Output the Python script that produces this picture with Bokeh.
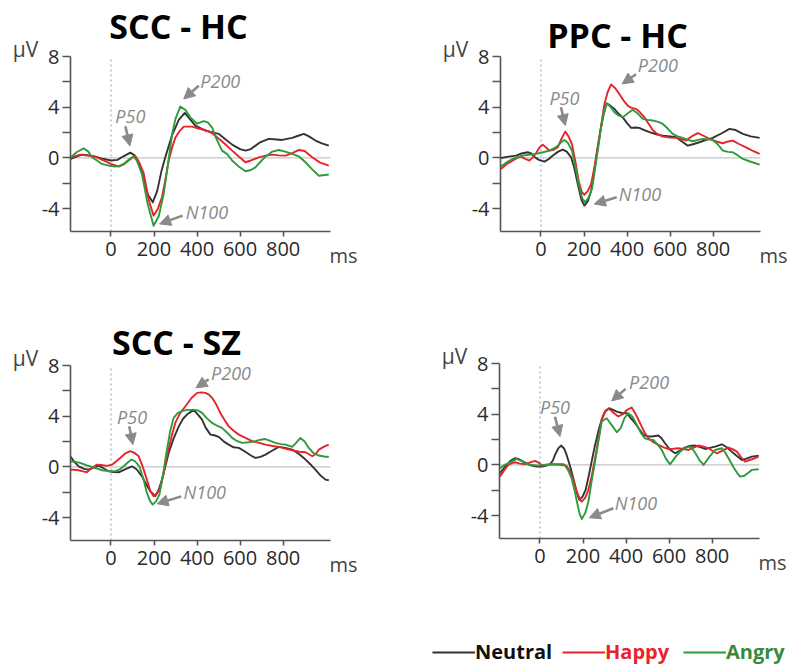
from bokeh.plotting import figure
from bokeh.layouts import column, row
from bokeh.models import Label, Arrow, NormalHead, FixedTicker, Legend, LegendItem
from bokeh.embed import file_html
from bokeh.resources import INLINE

FONT = "Open Sans"

# ---------------- data (time in ms, amplitude in microvolts) ----------------
series_names = ["Neutral", "Happy", "Angry"]
series_colors = ["#333333", "#e8232b", "#2f9a3c"]
legend_text_colors = ["#111111", "#e8232b", "#3a8a3a"]

x_ticks = [0, 200, 400, 600, 800]
y_ticks = [-4, 0, 4, 8]
y_tick_labels = ["-4", "0", "4", "8"]
y_minor_ticks = [-2, 2, 6]

# Panel 1: SCC - HC
scc_hc_neutral = [(-190,-0.1),(-160,0.1),(-135,0.26),(-100,0.2),(-73,0.1),(-40,-0.05),(0,-0.2),(30,-0.15),(60,0.15),(90,0.42),(110,0.2),(125,-0.3),(150,-1.5),(172,-2.9),(194,-3.5),(215,-2.6),(235,-1.0),(253,0.1),(284,1.8),(315,3.0),(343,3.55),(365,3.1),(392,2.55),(439,2.15),(500,1.9),(530,1.5),(563,1.05),(600,0.7),(625,0.58),(650,0.7),(690,1.2),(733,1.5),(770,1.45),(795,1.42),(842,1.58),(870,1.75),(896,1.9),(920,1.7),(950,1.37),(980,1.15),(1012,0.97)]
scc_hc_happy = [(-190,0),(-165,0.15),(-143,0.26),(-110,0.18),(-73,0.1),(-40,-0.15),(0,-0.47),(36,-0.68),(60,-0.5),(82,-0.2),(105,0.1),(115,0.12),(130,-0.3),(152,-1.2),(175,-3.3),(198,-4.55),(218,-4.0),(237,-3.1),(252,-1.8),(268,-0.2),(284,0.8),(299,1.6),(318,2.1),(338,2.47),(377,2.47),(410,2.3),(439,2.2),(470,1.95),(493,1.63),(530,1.1),(563,0.58),(595,0.1),(625,-0.34),(650,-0.2),(687,0.05),(720,0.18),(749,0.26),(780,0.2),(811,0.18),(845,0.4),(873,0.63),(900,0.55),(935,0.05),(970,-0.35),(1012,-0.6)]
scc_hc_angry = [(-190,0),(-160,0.45),(-127,0.76),(-105,0.5),(-88,0.05),(-65,-0.2),(-42,-0.47),(-10,-0.6),(20,-0.68),(40,-0.62),(59,-0.47),(85,-0.1),(105,0.1),(120,-0.2),(144,-1.26),(170,-3.6),(198,-5.35),(222,-4.6),(245,-2.84),(265,-0.5),(284,1.9),(300,3.1),(322,4.05),(345,3.8),(369,3.2),(400,2.7),(431,2.9),(450,2.8),(470,2.4),(490,1.5),(516,0.58),(540,0.3),(563,-0.2),(595,-0.7),(625,-1.05),(650,-0.95),(671,-0.74),(695,-0.3),(718,0.1),(750,0.5),(780,0.63),(810,0.5),(842,0.32),(875,0.1),(904,-0.34),(935,-0.9),(966,-1.4),(1012,-1.3)]

# Panel 2: PPC - HC
ppc_hc_neutral = [(-186,0),(-150,0.1),(-116,0.18),(-90,0.35),(-62,0.45),(-45,0.35),(-31,0.1),(-10,-0.15),(16,-0.29),(35,-0.1),(54,0.18),(80,0.5),(101,0.66),(120,0.5),(140,0.05),(155,-0.8),(171,-2.05),(188,-3.3),(202,-3.76),(218,-3.4),(233,-2.6),(245,-1.3),(256,0.05),(268,1.3),(279,2.42),(292,3.5),(305,4.3),(320,4.15),(341,3.87),(360,3.5),(380,3.2),(400,2.75),(419,2.37),(440,2.4),(457,2.37),(480,2.2),(504,2.03),(540,1.85),(566,1.76),(600,1.7),(628,1.63),(655,1.3),(682,0.97),(710,1.1),(736,1.24),(765,1.4),(798,1.58),(840,1.95),(876,2.29),(905,2.2),(938,1.9),(975,1.7),(1016,1.58)]
ppc_hc_happy = [(-186,-0.87),(-160,-0.5),(-132,-0.21),(-110,0.0),(-93,0.1),(-75,-0.05),(-54,-0.21),(-38,0.05),(-23,0.37),(-8,0.8),(8,1.05),(25,0.8),(39,0.58),(60,0.65),(78,0.84),(95,1.5),(113,2.08),(128,1.7),(144,1.1),(160,-0.3),(175,-1.8),(190,-2.7),(202,-2.9),(218,-2.6),(233,-2.05),(250,-0.6),(264,0.84),(280,2.6),(295,4.26),(310,5.2),(326,5.8),(345,5.5),(364,5.05),(385,4.5),(403,4.13),(420,3.95),(442,3.87),(460,3.6),(481,3.2),(500,2.7),(519,2.2),(540,1.9),(566,1.68),(600,1.6),(628,1.58),(650,1.5),(674,1.37),(700,1.7),(729,1.95),(755,1.75),(783,1.5),(815,1.3),(845,1.16),(870,1.3),(891,1.37),(920,1.1),(953,0.84),(985,0.55),(1016,0.32)]
ppc_hc_angry = [(-186,-0.68),(-160,-0.35),(-132,-0.08),(-110,0.05),(-85,0.18),(-55,0.25),(-23,0.32),(10,0.45),(39,0.58),(60,0.75),(78,0.97),(95,1.25),(109,1.42),(125,1.2),(144,0.58),(160,-0.7),(175,-2.05),(192,-3.2),(206,-3.5),(222,-3.1),(237,-2.45),(250,-1.0),(264,0.58),(275,1.9),(287,3.2),(305,4.3),(320,4.1),(341,3.6),(360,3.35),(380,3.2),(405,3.55),(426,3.8),(450,3.5),(473,3.08),(495,3.0),(519,2.95),(545,2.85),(566,2.68),(590,2.3),(612,1.9),(635,1.7),(659,1.58),(683,1.42),(705,1.32),(730,1.42),(752,1.5),(775,1.48),(798,1.42),(820,1.1),(845,0.58),(870,0.48),(891,0.45),(915,0.2),(938,-0.08),(975,-0.3),(1016,-0.53)]

# Panel 3: SCC - SZ
scc_sz_neutral = [(-189,0.84),(-170,0.4),(-150,0.05),(-125,-0.15),(-104,-0.21),(-80,-0.05),(-57,0.1),(-35,-0.1),(-11,-0.34),(12,-0.4),(36,-0.42),(65,-0.2),(98,0.05),(120,-0.2),(144,-0.74),(165,-1.4),(183,-1.92),(206,-2.3),(222,-1.8),(237,-1.0),(252,0.0),(268,1.1),(290,2.2),(315,3.2),(335,3.8),(353,4.13),(384,4.5),(405,4.1),(423,3.73),(440,3.1),(462,2.55),(480,2.5),(501,2.37),(525,2.0),(547,1.76),(570,1.55),(594,1.5),(615,1.3),(633,1.1),(650,0.9),(671,0.71),(695,0.8),(718,0.97),(750,1.3),(780,1.58),(810,1.5),(842,1.37),(875,1.0),(904,0.58),(930,0.15),(950,-0.21),(975,-0.7),(997,-1.0),(1012,-1.05)]
scc_sz_happy = [(-189,-0.21),(-170,-0.22),(-150,-0.26),(-130,-0.35),(-112,-0.42),(-90,-0.1),(-65,0.18),(-45,0.15),(-26,0.1),(-10,0.12),(5,0.18),(25,0.45),(43,0.71),(65,1.05),(90,1.24),(110,1.1),(129,0.84),(148,0.0),(167,-1.0),(183,-1.9),(198,-2.3),(213,-2.1),(229,-1.66),(245,-0.5),(260,0.84),(280,2.3),(299,3.47),(320,4.2),(346,4.79),(372,5.4),(400,5.84),(420,5.88),(439,5.84),(455,5.7),(470,5.45),(490,4.9),(508,4.26),(528,3.7),(547,3.2),(570,2.85),(594,2.55),(625,2.3),(656,2.03),(690,1.9),(718,1.76),(750,1.65),(780,1.58),(810,1.45),(842,1.32),(875,1.2),(904,1.16),(920,1.0),(935,0.84),(950,1.0),(966,1.37),(990,1.6),(1012,1.76)]
scc_sz_angry = [(-189,0.45),(-165,0.4),(-143,0.32),(-115,0.15),(-88,0.0),(-65,-0.12),(-42,-0.26),(-10,-0.32),(20,-0.34),(40,-0.2),(59,0.05),(78,0.35),(95,0.58),(112,0.45),(132,0.05),(150,-0.9),(167,-2.05),(182,-2.7),(194,-2.97),(210,-2.7),(225,-2.18),(242,-0.6),(260,1.37),(275,2.8),(291,3.87),(310,4.25),(330,4.4),(355,4.5),(384,4.5),(405,4.45),(423,4.26),(445,3.85),(470,3.47),(493,3.25),(516,3.08),(540,2.7),(563,2.29),(585,2.05),(609,1.9),(640,1.95),(671,2.03),(695,2.15),(718,2.2),(740,2.05),(764,1.9),(790,1.8),(811,1.76),(842,1.58),(860,1.9),(880,2.29),(900,2.0),(919,1.5),(940,1.1),(966,0.9),(990,0.82),(1012,0.79)]

# Panel 4: (untitled)
p4_neutral = [(-186,-0.66),(-170,-0.3),(-155,0),(-135,0.35),(-116,0.53),(-97,0.45),(-78,0.26),(-58,0.08),(-39,-0.05),(-15,-0.12),(8,-0.13),(30,-0.05),(47,0.05),(60,0.35),(70,0.79),(85,1.3),(98,1.53),(112,1.3),(124,0.79),(140,-0.1),(155,-1.05),(170,-2.1),(183,-2.76),(198,-2.5),(212,-1.97),(226,-0.9),(240,0.26),(255,1.5),(271,2.63),(287,3.6),(302,4.2),(321,4.47),(340,4.35),(357,4.2),(380,4.1),(403,4.08),(422,3.7),(442,3.3),(462,2.8),(481,2.37),(500,2.25),(519,2.24),(535,2.28),(550,2.32),(565,2.1),(581,1.71),(605,1.2),(628,0.92),(647,1.1),(667,1.32),(695,1.5),(721,1.53),(745,1.4),(767,1.26),(790,1.35),(814,1.45),(845,1.63),(868,1.4),(891,1.05),(915,0.7),(938,0.39),(960,0.5),(984,0.66),(1016,0.74)]
p4_happy = [(-186,-0.92),(-165,-0.4),(-147,0),(-130,0.15),(-116,0.21),(-92,0.1),(-70,0.05),(-45,0.2),(-23,0.32),(-8,0.2),(8,0),(30,0.02),(54,0.05),(80,0.05),(109,0.05),(125,-0.1),(140,-0.53),(155,-1.2),(171,-2.1),(185,-2.7),(194,-2.9),(210,-2.6),(225,-1.97),(241,-0.8),(256,0.53),(272,2.1),(287,3.55),(305,4.3),(321,4.42),(343,4.1),(364,3.82),(385,4.0),(405,4.35),(426,4.53),(445,4.0),(465,3.3),(485,2.6),(504,2.1),(527,1.8),(550,1.58),(575,1.38),(597,1.26),(620,1.28),(643,1.32),(668,1.25),(690,1.18),(712,1.35),(736,1.53),(760,1.45),(783,1.32),(803,1.1),(822,0.92),(850,1.15),(876,1.37),(895,1.25),(915,1.05),(935,0.6),(953,0.26),(985,0.45),(1016,0.66)]
p4_angry = [(-186,-0.26),(-165,0.0),(-147,0.13),(-128,0.3),(-109,0.47),(-85,0.3),(-62,0.05),(-35,0.0),(-8,-0.05),(25,0.0),(54,0.05),(85,0.02),(116,-0.05),(132,-0.45),(147,-1.05),(162,-2.1),(175,-3.16),(185,-3.9),(194,-4.26),(210,-3.8),(225,-2.9),(240,-1.3),(256,0.26),(272,1.9),(287,3.42),(310,3.68),(335,3.1),(357,2.58),(375,2.9),(393,3.7),(411,4.08),(430,3.8),(450,3.16),(470,2.5),(488,2.1),(508,2.0),(527,1.97),(547,1.6),(566,1.18),(585,0.5),(605,0.05),(628,0.6),(651,1.05),(675,1.35),(698,1.45),(720,1.0),(740,0.4),(760,0.0),(785,0.6),(814,1.18),(845,1.32),(860,1.0),(876,0.53),(900,-0.2),(915,-0.6),(930,-0.92),(950,-0.85),(984,-0.39),(1016,-0.34)]

# Component annotations: label, text anchor (ms, uV), arrow start, arrow end
scc_hc_components = [("P50", (90, 3.3), (67, 2.5), (88, 0.95)),
                     ("P200", (508, 6.05), (408, 5.7), (338, 4.65)),
                     ("N100", (446, -4.3), (333, -4.55), (226, -5.2))]
ppc_hc_components = [("P50", (109, 4.74), (93, 4.0), (113, 2.55)),
                     ("P200", (543, 7.3), (442, 6.6), (377, 5.84)),
                     ("N100", (460, -2.84), (352, -3.1), (248, -3.63))]
scc_sz_components = [("P50", (98, 3.95), (85, 3.2), (102, 1.76)),
                     ("P200", (558, 7.37), (454, 6.9), (395, 6.24)),
                     ("N100", (436, -2.0), (327, -2.32), (214, -2.9))]
p4_components = [("P50", (70, 4.6), (70, 3.8), (93, 2.24)),
                 ("P200", (507, 6.58), (398, 6.0), (333, 5.05)),
                 ("N100", (446, -2.97), (341, -3.42), (229, -4.16))]

# axis extents (data units)
X_MIN, X_MAX = -188, 1020
Y_MIN, Y_MAX = -5.8, 8

# ---------------- styling / geometry ----------------
PLOT_W, PLOT_H = 260, 175          # pixel size of the axes box
SX = PLOT_W / (X_MAX - X_MIN)      # px per ms
SY = PLOT_H / (Y_MAX - Y_MIN)      # px per uV
ANN_COLOR = "#8a8a8a"
AXIS_COLOR = "#555555"
TICK_TEXT = "#2a2a2a"


def make_panel(title, title_off, curves, components, fig_w, fig_h, pad_left, pad_top):
    # whole figure is the frame; axes are placed at fixed data locations inside it
    x0 = X_MIN - pad_left / SX
    x1 = x0 + fig_w / SX
    y1 = Y_MAX + pad_top / SY
    y0 = y1 - fig_h / SY
    p = figure(width=fig_w, height=fig_h, x_range=(x0, x1), y_range=(y0, y1),
               output_backend="svg", toolbar_location=None,
               min_border_left=0, min_border_right=0,
               min_border_top=0, min_border_bottom=0)
    p.outline_line_color = None
    p.grid.visible = False
    p.background_fill_color = "white"
    p.border_fill_color = "white"

    p.xaxis.fixed_location = Y_MIN
    p.xaxis.bounds = (X_MIN, X_MAX)
    p.yaxis.fixed_location = X_MIN
    p.yaxis.bounds = (Y_MIN, Y_MAX)
    p.xaxis.ticker = FixedTicker(ticks=x_ticks, minor_ticks=[])
    p.yaxis.ticker = FixedTicker(ticks=y_ticks, minor_ticks=y_minor_ticks)
    p.yaxis.major_label_overrides = {t: s for t, s in zip(y_ticks, y_tick_labels)}
    for ax in (p.xaxis, p.yaxis):
        ax.axis_line_color = AXIS_COLOR
        ax.axis_line_width = 1.6
        ax.major_tick_line_color = AXIS_COLOR
        ax.major_tick_line_width = 1.6
        ax.major_tick_in = 0
        ax.major_label_text_font = FONT
        ax.major_label_text_font_size = "20px"
        ax.major_label_text_color = TICK_TEXT
    p.yaxis.major_tick_out = 8
    p.yaxis.minor_tick_out = 8
    p.yaxis.minor_tick_in = 0
    p.yaxis.minor_tick_line_color = AXIS_COLOR
    p.yaxis.minor_tick_line_width = 1.6
    p.yaxis.major_label_standoff = 3
    p.xaxis.major_tick_out = 5
    p.xaxis.major_label_standoff = 5

    # zero baseline and stimulus-onset marker
    p.line([X_MIN, X_MAX], [0, 0], line_color="#c4c4c4", line_width=1.3)
    p.line([0, 0], [Y_MIN, Y_MAX], line_color="#a9aab8", line_width=1.2, line_dash="2 3")

    renderers = []
    for data, color in zip(curves, series_colors):
        xs = [d[0] for d in data]
        ys = [d[1] for d in data]
        renderers.append(p.line(xs, ys, line_color=color, line_width=1.9, line_join="round"))

    for name, txt, a0, a1 in components:
        p.add_layout(Arrow(end=NormalHead(size=11, fill_color=ANN_COLOR, line_color=ANN_COLOR),
                           x_start=a0[0], y_start=a0[1], x_end=a1[0], y_end=a1[1],
                           line_color=ANN_COLOR, line_width=2.6))
        p.add_layout(Label(x=txt[0], y=txt[1], text=name, text_font=FONT,
                           text_font_style="italic", text_font_size="18px",
                           text_color=ANN_COLOR, text_align="center",
                           text_baseline="middle"))

    def scr(dx, dy_down):
        # pixel offset from the top-left corner of the axes box -> screen units
        return pad_left + dx, fig_h - pad_top - dy_down

    ux, uy = scr(-45, -8)
    p.add_layout(Label(x=ux, y=uy, x_units="screen", y_units="screen", text="μV",
                       text_font=FONT, text_font_size="21px", text_color="#444444",
                       text_align="center", text_baseline="middle"))
    mx, my = scr(273, PLOT_H + 24)
    p.add_layout(Label(x=mx, y=my, x_units="screen", y_units="screen", text="ms",
                       text_font=FONT, text_font_size="20px", text_color="#444444",
                       text_align="center", text_baseline="middle"))
    if title:
        tx, ty = scr(*title_off)
        p.add_layout(Label(x=tx, y=ty, x_units="screen", y_units="screen",
                           text=title, text_font=FONT, text_font_style="bold",
                           text_font_size="34px", text_color="black",
                           text_align="center", text_baseline="middle"))
    return p, renderers


p1, _ = make_panel("SCC - HC", (108, -31), [scc_hc_neutral, scc_hc_happy, scc_hc_angry],
                   scc_hc_components, 400, 317, 70, 56)
p2, _ = make_panel("PPC - HC", (117, -22), [ppc_hc_neutral, ppc_hc_happy, ppc_hc_angry],
                   ppc_hc_components, 400, 317, 100, 56)
p3, _ = make_panel("SCC - SZ", (106, -24), [scc_sz_neutral, scc_sz_happy, scc_sz_angry],
                   scc_sz_components, 400, 353, 70, 48)
p4, r4 = make_panel(None, None, [p4_neutral, p4_happy, p4_angry],
                    p4_components, 400, 353, 99, 46)

# legend (three single-item legends so that each label keeps its own colour)
legend_x = [32, 162, 283]
for name, tcolor, lx, r in zip(series_names, legend_text_colors, legend_x, r4):
    leg = Legend(items=[LegendItem(label=name, renderers=[r])], location=(lx, 5),
                 orientation="horizontal", padding=0, margin=0, spacing=0,
                 border_line_color=None, background_fill_alpha=0,
                 glyph_width=43, glyph_height=20, label_standoff=0, label_height=20,
                 label_text_font=FONT, label_text_font_style="bold",
                 label_text_font_size="20px", label_text_color=tcolor)
    p4.add_layout(leg)

layout = column(row(p1, p2), row(p3, p4))
open("out.html", "w").write(file_html(layout, INLINE))
